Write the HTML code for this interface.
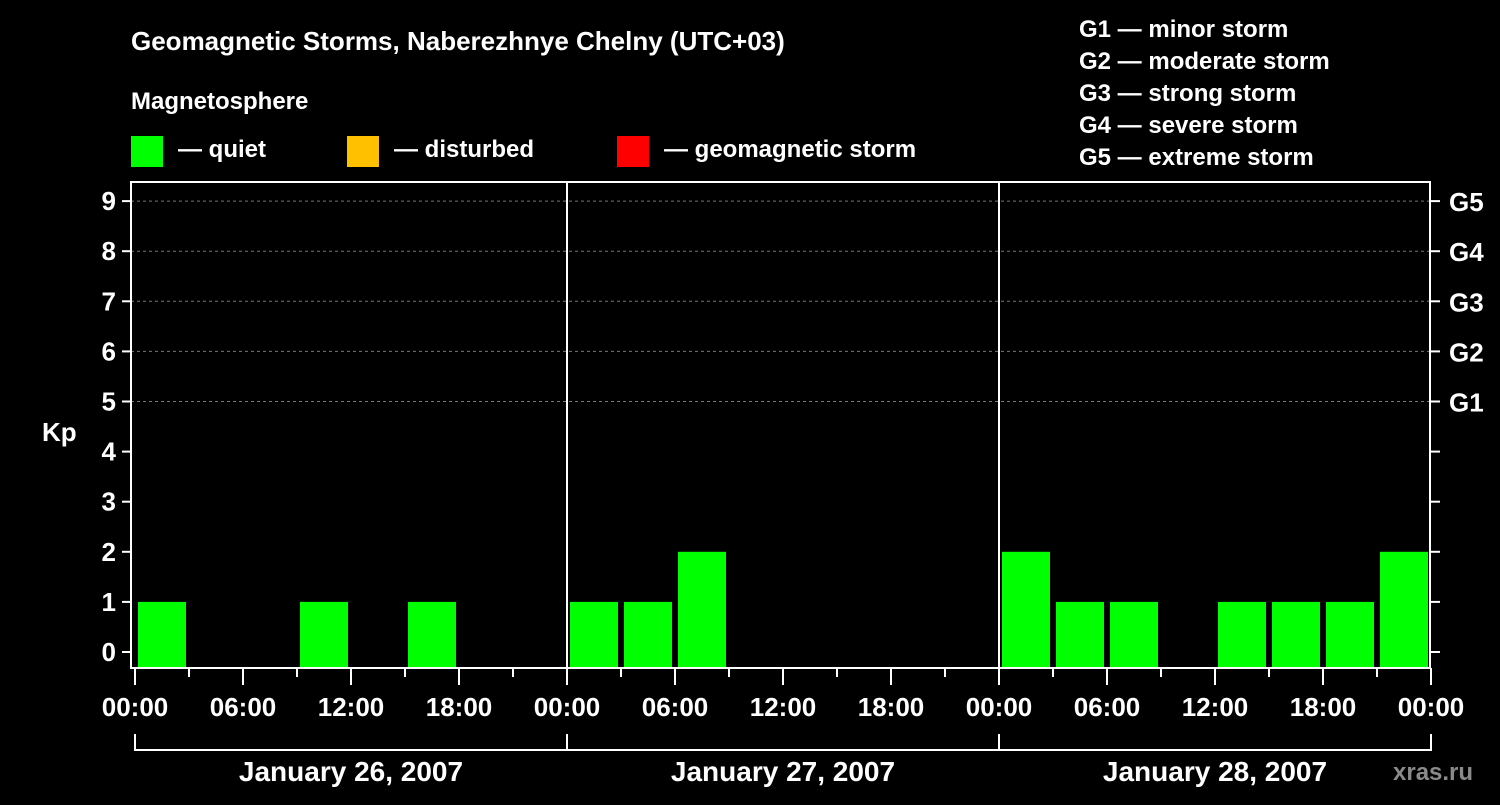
<!DOCTYPE html>
<html><head><meta charset="utf-8"><style>
body{margin:0;background:#000;width:1500px;height:800px;overflow:hidden}
svg text{font-family:"Liberation Sans",Arial,sans-serif;font-weight:bold;fill:#fff}
</style></head><body>
<svg id="chart" width="1500" height="800" viewBox="0 0 1500 800">
<text x="131" y="50" font-size="26">Geomagnetic Storms, Naberezhnye Chelny (UTC+03)</text>
<text x="131" y="109" font-size="24">Magnetosphere</text>
<rect x="131" y="136" width="32" height="31" fill="#00ff00"/>
<text x="178" y="157" font-size="24">— quiet</text>
<rect x="347" y="136" width="32" height="31" fill="#ffc000"/>
<text x="394" y="157" font-size="24">— disturbed</text>
<rect x="617" y="136" width="32" height="31" fill="#ff0000"/>
<text x="664" y="157" font-size="24">— geomagnetic storm</text>
<g font-size="24">
<text x="1079" y="37">G1 — minor storm</text>
<text x="1079" y="69">G2 — moderate storm</text>
<text x="1079" y="101">G3 — strong storm</text>
<text x="1079" y="133">G4 — severe storm</text>
<text x="1079" y="165">G5 — extreme storm</text>
</g>
<text x="1393" y="780" font-size="24" fill="#888" style="fill:#8a8a8a">xras.ru</text>
<text x="42" y="441" font-size="26">Kp</text>
<g id="plot"></g>
</svg>
<script>
const days = ["January 26, 2007","January 27, 2007","January 28, 2007"];
const kpDay1 = [1,null,null,1,null,1,null,null];
const kpDay2 = [1,1,2,null,null,null,null,null];
const kpDay3 = [2,1,1,null,1,1,1,2];
const hourLabels = ["00:00","06:00","12:00","18:00"];
const yTicks = [0,1,2,3,4,5,6,7,8,9];
const gLevels = [["G1",5],["G2",6],["G3",7],["G4",8],["G5",9]];

const NS="http://www.w3.org/2000/svg";
const g=document.getElementById('plot');
const L=131,R=1430,T=182,B=668,X0=135,DAYW=432;
const y=v=>652-v*50.1;
const x=h=>X0+h*DAYW/24;
function mk(tag,attrs,parent){const e=document.createElementNS(NS,tag);for(const k in attrs)e.setAttribute(k,attrs[k]);(parent||g).appendChild(e);return e;}
function col(v){return v>=5?'#ff0000':v>=4?'#ffc000':'#00ff00';}
// grid
gLevels.forEach(([n,v])=>{
  const ln=mk('line',{x1:L,x2:R,y1:y(v),y2:y(v),stroke:'#777','stroke-dasharray':'3,3'});
  
  
  const t=mk('text',{x:1449,y:y(v)+10,'font-size':26});t.textContent=n;
  
  
});
// bars
[kpDay1,kpDay2,kpDay3].forEach((arr,d)=>{
  arr.forEach((v,i)=>{
    if(v===null)return;
    const r=mk('rect',{x:x(d*24+i*3)+3,y:y(v),width:48,height:B-y(v),fill:col(v)});
    
    
  });
});
// frame
const fr=mk('rect',{x:L,y:T,width:R-L,height:B-T,fill:'none',stroke:'#fff','stroke-width':2});


for(let d=1;d<3;d++){const l=mk('line',{x1:x(d*24),x2:x(d*24),y1:T,y2:B,stroke:'#fff','stroke-width':2});

}
// y ticks
yTicks.forEach(v=>{
  mk('line',{x1:122,x2:L,y1:y(v),y2:y(v),stroke:'#fff','stroke-width':2});
  mk('line',{x1:R,x2:1440,y1:y(v),y2:y(v),stroke:'#fff','stroke-width':2});
  const t=mk('text',{x:116,y:y(v)+9,'font-size':26,'text-anchor':'end'});t.textContent=v;
  
  
});
// x ticks
for(let h=0;h<=72;h+=3){
  const major=h%6===0;
  mk('line',{x1:x(h),x2:x(h),y1:B,y2:B+(major?17:9),stroke:'#fff','stroke-width':2});
  if(major){const t=mk('text',{x:x(h),y:716,'font-size':26,'text-anchor':'middle'});t.textContent=hourLabels[(h/6)%4];
  
  }
}
// day brackets
days.forEach((dname,d)=>{
  mk('line',{x1:x(d*24),x2:x(d*24+24),y1:750,y2:750,stroke:'#fff','stroke-width':2});
  mk('line',{x1:x(d*24),x2:x(d*24),y1:734,y2:751,stroke:'#fff','stroke-width':2});
  const t=mk('text',{x:x(d*24+12),y:781,'font-size':28,'text-anchor':'middle'});t.textContent=dname;
  
  
});
mk('line',{x1:x(72),x2:x(72),y1:734,y2:751,stroke:'#fff','stroke-width':2});
</script>
</body></html>
